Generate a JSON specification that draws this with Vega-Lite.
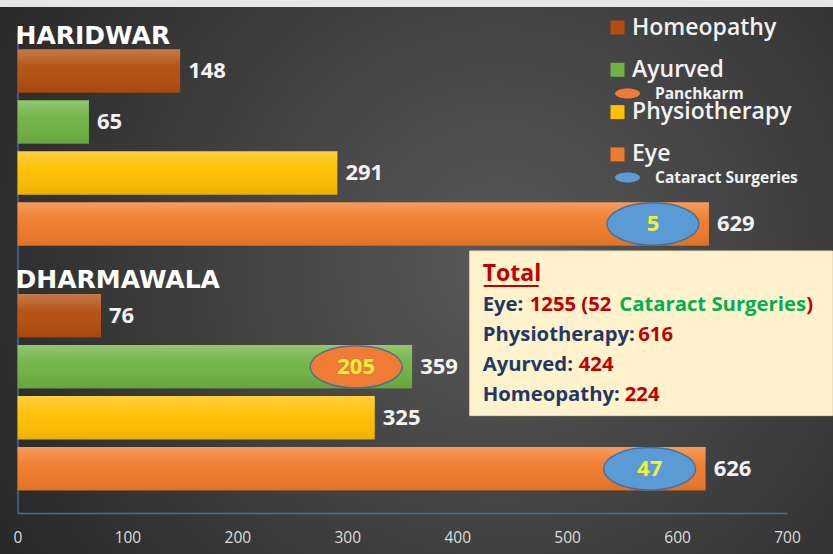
{
  "$schema": "https://vega.github.io/schema/vega-lite/v6.json",
  "width": 833,
  "height": 547,
  "autosize": "none",
  "padding": {"top": 7, "left": 0, "right": 0, "bottom": 0},
  "background": "#e6e6e6",
  "view": {
    "stroke": null,
    "fill": {"gradient": "radial", "x1": 0.6, "y1": 0.48, "r1": 0, "x2": 0.6, "y2": 0.48, "r2": 0.7,
      "stops": [{"offset": 0, "color": "#595959"}, {"offset": 1, "color": "#272727"}]}
  },
  "config": {
    "font": "Open Sans",
    "axisX": {"title": null, "grid": false, "ticks": false, "domainColor": "#3f6fa8", "domainWidth": 1.5, "labelColor": "#dddddd", "labelFont": "Open Sans", "labelFontSize": 15.5, "labelPadding": 17, "labelFlush": false, "offset": -41},
    "axisY": {"title": null, "grid": false, "ticks": false, "labels": false, "domainColor": "#3f6fa8", "domainWidth": 1.5, "offset": -17.5}
  },
  "resolve": {"scale": {"y": "independent"}},
  "layer": [
    {
      "data": {"values": [
        {"site": "HARIDWAR", "therapy": "Homeopathy", "value": 148},
        {"site": "HARIDWAR", "therapy": "Ayurved", "value": 65},
        {"site": "HARIDWAR", "therapy": "Physiotherapy", "value": 291},
        {"site": "HARIDWAR", "therapy": "Eye", "value": 629, "sub": 5, "subKind": "Cataract Surgeries"},
        {"site": "DHARMAWALA", "therapy": "Homeopathy", "value": 76},
        {"site": "DHARMAWALA", "therapy": "Ayurved", "value": 359, "sub": 205, "subKind": "Panchkarm"},
        {"site": "DHARMAWALA", "therapy": "Physiotherapy", "value": 325},
        {"site": "DHARMAWALA", "therapy": "Eye", "value": 626, "sub": 47, "subKind": "Cataract Surgeries"}
      ]},
      "encoding": {
        "x": {"field": "value", "type": "quantitative", "scale": {"domain": [0, 700], "range": [17.5, 787], "nice": false, "zero": true}, "axis": {"values": [0, 100, 200, 300, 400, 500, 600, 700]}},
        "y": {"field": "site", "type": "nominal", "sort": ["HARIDWAR", "DHARMAWALA"], "scale": {"domain": ["HARIDWAR", "DHARMAWALA"], "range": [23, 506], "paddingInner": 0.1667, "paddingOuter": 0.0699, "align": 0.453}}
      },
      "layer": [
        {
          "mark": {"type": "bar", "fill": "#000000", "fillOpacity": 0.35, "yOffset": 4},
          "encoding": {"yOffset": {"field": "therapy", "type": "nominal", "scale": {"domain": ["Homeopathy", "Ayurved", "Physiotherapy", "Eye"], "paddingInner": 0.147, "paddingOuter": 0.0735}}}
        },
        {
          "mark": {"type": "bar"},
          "encoding": {
            "yOffset": {"field": "therapy", "type": "nominal"},
            "color": {"field": "therapy", "type": "nominal",
              "scale": {"domain": ["Homeopathy", "Ayurved", "Physiotherapy", "Eye"], "range": ["#b34e0e", "#70b244", "#ffc000", "#f07b2a"]},
              "legend": {"orient": "none", "legendX": 606, "legendY": 9, "direction": "vertical", "columns": 1, "title": null, "symbolType": "square", "symbolSize": 196, "symbolStrokeWidth": 0, "labelFont": "Open Sans", "labelFontWeight": 600, "labelFontSize": 23, "labelColor": "#f2f2f2", "labelOffset": 3, "rowPadding": 18.3, "labelLimit": 300, "padding": 0}}
          }
        },
        {
          "mark": {"type": "bar", "fill": {"gradient": "linear", "x1": 0, "y1": 0, "x2": 0, "y2": 1,
            "stops": [{"offset": 0, "color": "rgba(255,255,255,0.25)"}, {"offset": 0.4, "color": "rgba(255,255,255,0.04)"}, {"offset": 1, "color": "rgba(0,0,0,0.08)"}]}},
          "encoding": {"yOffset": {"field": "therapy", "type": "nominal"}}
        },
        {
          "mark": {"type": "text", "align": "left", "baseline": "middle", "dx": 8, "font": "Open Sans", "fontWeight": "bold", "fontSize": 22, "color": "#f2f2f2"},
          "encoding": {"yOffset": {"field": "therapy", "type": "nominal"}, "text": {"field": "value", "type": "quantitative", "format": "d"}}
        },
        {
          "transform": [{"filter": "isValid(datum.sub)"}],
          "mark": {"type": "point", "shape": "M-1,0C-1,-0.254,-0.5523,-0.46,0,-0.46C0.5523,-0.46,1,-0.254,1,0C1,0.254,0.5523,0.46,0,0.46C-0.5523,0.46,-1,0.254,-1,0Z", "size": 8464, "filled": true, "opacity": 1, "fillOpacity": 1, "stroke": "#4f6f92", "strokeWidth": 1.5, "xOffset": -56},
          "encoding": {
            "yOffset": {"field": "therapy", "type": "nominal"},
            "fill": {"field": "subKind", "type": "nominal",
              "scale": {"domain": ["Panchkarm", "Cataract Surgeries"], "range": ["#ef7b34", "#5b9bd5"]},
              "legend": {"orient": "none", "legendX": 615, "legendY": 74, "direction": "vertical", "columns": 1, "title": null,
                "symbolType": "M-1,0C-1,-0.2209,-0.5523,-0.4,0,-0.4C0.5523,-0.4,1,-0.2209,1,0C1,0.2209,0.5523,0.4,0,0.4C-0.5523,0.4,-1,0.2209,-1,0Z",
                "symbolSize": 625, "symbolStrokeWidth": 0, "labelFont": "Open Sans", "labelFontWeight": "bold", "labelFontSize": 15.5, "labelColor": "#f2f2f2", "labelOffset": 15, "rowPadding": 63, "labelLimit": 300, "padding": 0}}
          }
        },
        {
          "transform": [{"filter": "isValid(datum.sub)"}],
          "mark": {"type": "text", "align": "center", "baseline": "middle", "xOffset": -56, "font": "Open Sans", "fontWeight": "bold", "fontSize": 22, "color": "#f0f03a"},
          "encoding": {"yOffset": {"field": "therapy", "type": "nominal"}, "text": {"field": "sub", "type": "quantitative", "format": "d"}}
        },
        {
          "transform": [{"filter": "datum.therapy === 'Homeopathy'"}],
          "mark": {"type": "text", "align": "left", "baseline": "alphabetic", "dy": -2, "dx": -2, "font": "DejaVu Sans", "fontWeight": "bold", "fontSize": 25, "color": "#ffffff"},
          "encoding": {
            "x": {"datum": 0, "type": "quantitative"},
            "y": {"field": "site", "type": "nominal", "bandPosition": 0},
            "text": {"field": "site"}
          }
        }
      ]
    },
    {
      "data": {"values": [
        {"line": "Total", "title": "Total"},
        {"line": "Eye", "label": "Eye:", "value": "1255 (52", "note": "Cataract Surgeries", "close": ")"},
        {"line": "Physiotherapy", "label": "Physiotherapy:", "value": "616"},
        {"line": "Ayurved", "label": "Ayurved:", "value": "424"},
        {"line": "Homeopathy", "label": "Homeopathy:", "value": "224"}
      ]},
      "encoding": {
        "y": {"field": "line", "type": "nominal", "sort": null, "scale": {"domain": ["Total", "Eye", "Physiotherapy", "Ayurved", "Homeopathy"], "range": [252.3, 403.3], "paddingInner": 0, "paddingOuter": 0}, "axis": null},
        "x": {"datum": 423.2, "type": "quantitative"}
      },
      "layer": [
        {
          "transform": [{"filter": "datum.line === 'Physiotherapy'"}],
          "mark": {"type": "bar", "fill": "#fff2cc", "stroke": "#efe0b8", "strokeWidth": 1, "height": {"band": 5.45}, "yOffset": -1.5},
          "encoding": {"x": {"datum": 411.4, "type": "quantitative"}, "x2": {"datum": 741.4}}
        },
        {
          "transform": [{"filter": "isValid(datum.label)"}],
          "mark": {"type": "text", "align": "left", "baseline": "middle", "font": "Open Sans", "fontWeight": "bold", "fontSize": 20.3, "color": "#1f3864"},
          "encoding": {"text": {"field": "label"}}
        },
        {
          "transform": [{"filter": "datum.line === 'Eye'"}],
          "mark": {"type": "text", "align": "left", "baseline": "middle", "dx": 47, "font": "Open Sans", "fontWeight": "bold", "fontSize": 20.3, "color": "#c00000"},
          "encoding": {"text": {"field": "value"}}
        },
        {
          "transform": [{"filter": "datum.line === 'Eye'"}],
          "mark": {"type": "text", "align": "left", "baseline": "middle", "dx": 136.5, "font": "Open Sans", "fontWeight": "bold", "fontSize": 20.3, "color": "#00b050"},
          "encoding": {"text": {"field": "note"}}
        },
        {
          "transform": [{"filter": "datum.line === 'Eye'"}],
          "mark": {"type": "text", "align": "left", "baseline": "middle", "dx": 323.5, "font": "Open Sans", "fontWeight": "bold", "fontSize": 20.3, "color": "#c00000"},
          "encoding": {"text": {"field": "close"}}
        },
        {
          "transform": [{"filter": "datum.line === 'Physiotherapy'"}],
          "mark": {"type": "text", "align": "left", "baseline": "middle", "dx": 155.5, "font": "Open Sans", "fontWeight": "bold", "fontSize": 20.3, "color": "#c00000"},
          "encoding": {"text": {"field": "value"}}
        },
        {
          "transform": [{"filter": "datum.line === 'Ayurved'"}],
          "mark": {"type": "text", "align": "left", "baseline": "middle", "dx": 96, "font": "Open Sans", "fontWeight": "bold", "fontSize": 20.3, "color": "#c00000"},
          "encoding": {"text": {"field": "value"}}
        },
        {
          "transform": [{"filter": "datum.line === 'Homeopathy'"}],
          "mark": {"type": "text", "align": "left", "baseline": "middle", "dx": 142, "font": "Open Sans", "fontWeight": "bold", "fontSize": 20.3, "color": "#c00000"},
          "encoding": {"text": {"field": "value"}}
        },
        {
          "transform": [{"filter": "isValid(datum.title)"}],
          "mark": {"type": "text", "align": "left", "baseline": "middle", "font": "Open Sans", "fontWeight": "bold", "fontSize": 23, "color": "#c00000"},
          "encoding": {"text": {"field": "title"}}
        },
        {
          "transform": [{"filter": "datum.line === 'Total'"}],
          "mark": {"type": "rule", "color": "#c00000", "strokeWidth": 2, "yOffset": 11.5},
          "encoding": {"x": {"datum": 424.1, "type": "quantitative"}, "x2": {"datum": 474.1}}
        }
      ]
    }
  ]
}
